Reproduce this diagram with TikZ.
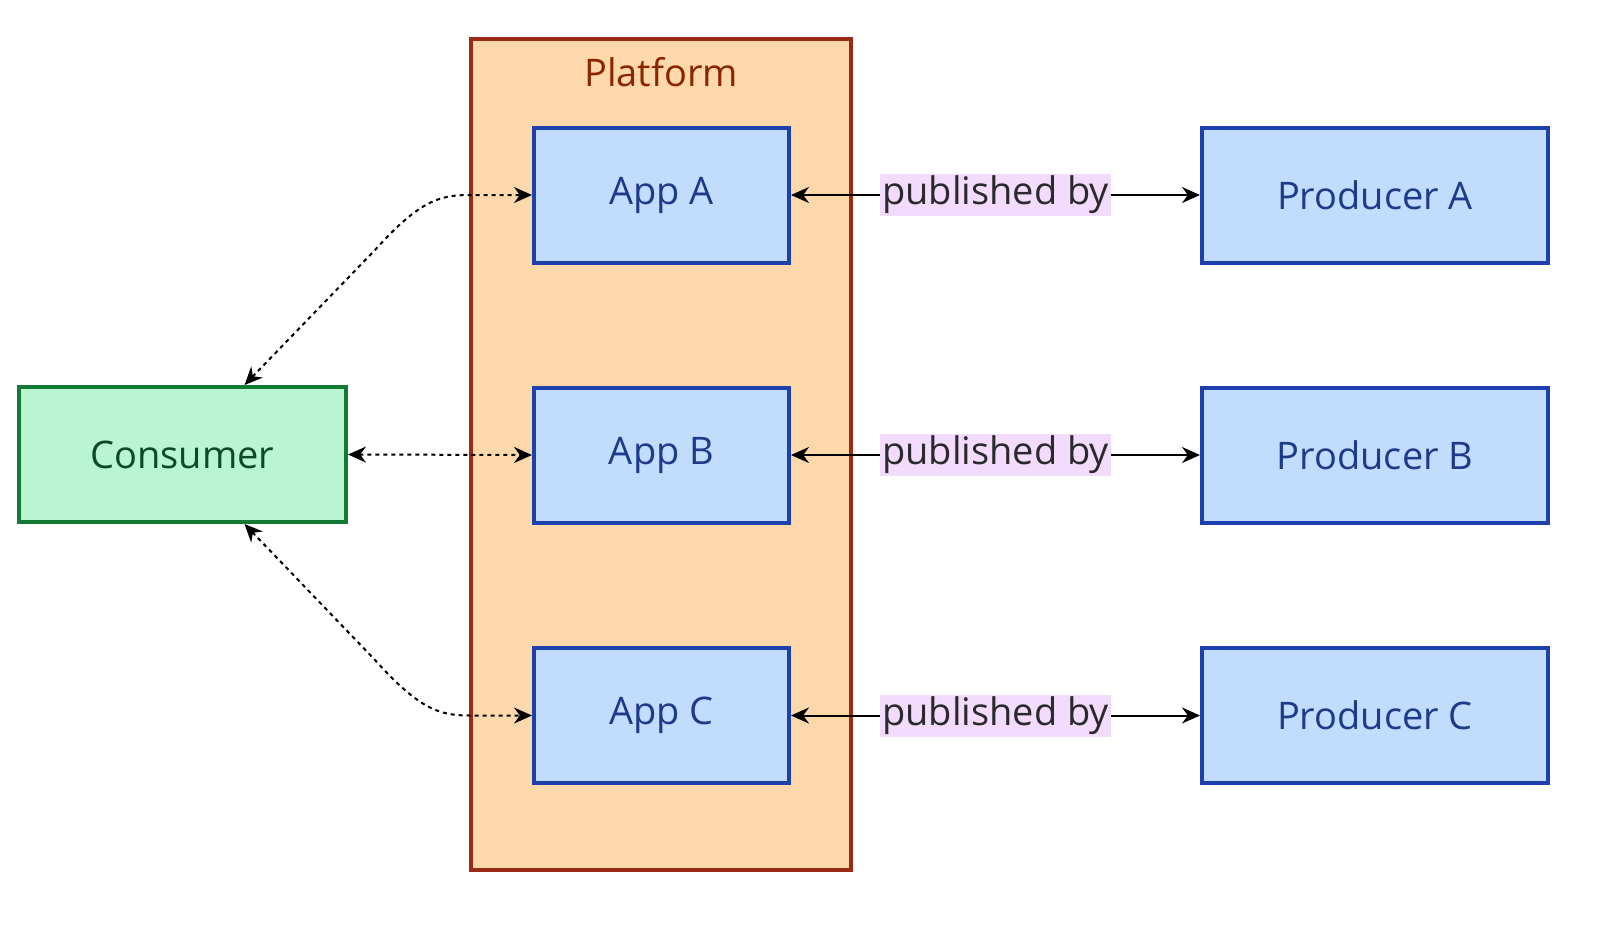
\documentclass[tikz,border=0pt]{standalone}
\usepackage{fontspec}
\setmainfont{Open Sans}
\usetikzlibrary{arrows.meta,calc}
\definecolor{appfill}{HTML}{C2DCFD}
\definecolor{appdraw}{HTML}{1E3FAE}
\definecolor{apptext}{HTML}{1E3A8A}
\definecolor{platfill}{HTML}{FDD8AA}
\definecolor{platdraw}{HTML}{9B2B12}
\definecolor{plattext}{HTML}{8B2500}
\definecolor{consfill}{HTML}{B9F5D0}
\definecolor{consdraw}{HTML}{137A36}
\definecolor{constext}{HTML}{0A4A2A}
\definecolor{lblfill}{HTML}{F3DBFD}
\definecolor{lbltext}{HTML}{2A2A2A}
\begin{document}
\begin{tikzpicture}[x=0.5pt,y=-0.5pt,
  fnt/.style={font=\fontsize{19}{22}\selectfont},
  box/.style={draw=appdraw,fill=appfill,text=apptext,line width=2pt,minimum width=127.5pt,minimum height=67.5pt,inner sep=0pt,fnt},
  prod/.style={box,minimum width=173pt},
  lbl/.style={fill=lblfill,text=lbltext,inner sep=1pt,fnt},
  solid arr/.style={line width=1pt,{Stealth[length=9pt,width=8pt]}-{Stealth[length=9pt,width=8pt]}},
  dot arr/.style={line width=1pt,dash pattern=on 2pt off 2pt,{Stealth[length=9pt,width=8pt]}-{Stealth[length=9pt,width=8pt]}}]
\useasboundingbox (0,0) rectangle (1600,939);
\node[draw=platdraw,fill=platfill,line width=2pt,minimum width=190pt,minimum height=415.5pt,inner sep=0pt] (plat) at (661,454.5) {};
\node[text=plattext,fnt] (ptitle) at (661,72) {Platform};
\node[box] (a) at (661.5,195) {App A};
\node[box] (b) at (661.5,455) {App B};
\node[box] (c) at (661.5,715.5) {App C};
\node[prod] (pa) at (1375,195) {Producer A};
\node[prod] (pb) at (1375,455) {Producer B};
\node[prod] (pc) at (1375,715.5) {Producer C};
\node[draw=consdraw,fill=consfill,text=constext,line width=2pt,minimum width=163.5pt,minimum height=67.5pt,inner sep=0pt,fnt] (cons) at (182.5,454.5) {Consumer};
\foreach \s/\t in {a/pa,b/pb,c/pc}{
  \draw[solid arr] (\s.east) -- (\t.west) node[lbl,pos=0.5] {published by};
}
\coordinate (ctop) at ($(cons.north)+(62,0)$);
\coordinate (cbot) at ($(cons.south)+(62,0)$);
\draw[dot arr] (ctop) -- (375,250) .. controls (420,200) and (440,195) .. (470,195) -- (a.west);
\draw[dot arr] (cons.east) -- (b.west);
\draw[dot arr] (cbot) -- (375,660) .. controls (420,710) and (440,715.5) .. (470,715.5) -- (c.west);
\end{tikzpicture}
\end{document}
